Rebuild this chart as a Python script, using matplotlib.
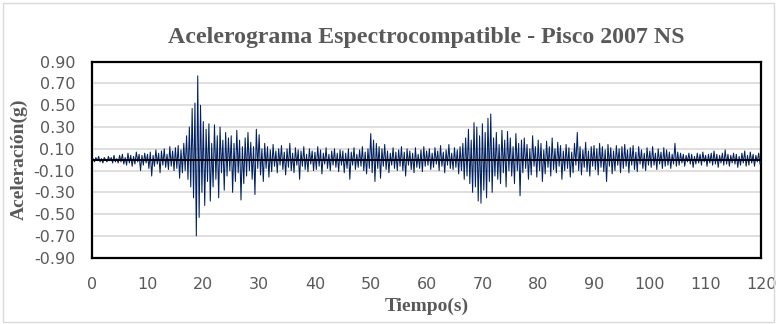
import numpy as np
import matplotlib
matplotlib.use("Agg")
import matplotlib.pyplot as plt
from matplotlib.patches import Rectangle

# Acelerograma (g), muestreado cada 0.25 s, leido a ojo del grafico
dt = 0.25
accel = [
    0.00, 0.01, -0.02, 0.02, -0.01, 0.03, -0.02, 0.01, -0.03, 0.02, 0.00, -0.02, 0.03, -0.01, 0.02, -0.03, 0.04, -0.02, 0.01, -0.03,
    0.04, -0.02, 0.05, -0.04, 0.02, -0.05, 0.06, -0.03, 0.04, -0.06, 0.03, -0.04, 0.07, -0.02, 0.05, -0.10, 0.04, -0.05, 0.06, -0.03,
    0.05, -0.08, 0.07, -0.15, 0.04, -0.06, 0.09, -0.04, 0.06, -0.12, 0.08, -0.05, 0.10, -0.07, 0.05, -0.09, 0.12, -0.06, 0.08, -0.10,
    0.11, -0.08, 0.13, -0.17, 0.09, -0.12, 0.15, -0.10, 0.22, -0.18, 0.30, -0.25, 0.47, -0.35, 0.52, -0.70, 0.77, -0.53, 0.50, -0.30,
    0.35, -0.42, 0.28, -0.20, 0.33, -0.38, 0.15, -0.25, 0.32, -0.18, 0.22, -0.35, 0.30, -0.12, 0.18, -0.28, 0.25, -0.15, 0.20, -0.10,
    0.22, -0.30, 0.15, -0.20, 0.27, -0.12, 0.18, -0.37, 0.12, -0.22, 0.20, -0.15, 0.25, -0.10, 0.16, -0.18, 0.12, -0.32, 0.28, -0.08,
    0.23, -0.14, 0.10, -0.20, 0.15, -0.08, 0.12, -0.16, 0.09, -0.11, 0.14, -0.06, 0.08, -0.12, 0.10, -0.05, 0.13, -0.09, 0.07, -0.14,
    0.10, -0.07, 0.15, -0.10, 0.06, -0.12, 0.11, -0.05, 0.09, -0.18, 0.08, -0.06, 0.12, -0.09, 0.05, -0.11, 0.10, -0.04, 0.08, -0.10,
    0.07, -0.09, 0.12, -0.06, 0.09, -0.13, 0.06, -0.04, 0.11, -0.08, 0.05, -0.10, 0.08, -0.05, 0.10, -0.07, 0.06, -0.11, 0.09, -0.05,
    0.08, -0.12, 0.06, -0.08, 0.10, -0.18, 0.07, -0.05, 0.11, -0.09, 0.05, -0.07, 0.09, -0.06, 0.12, -0.10, 0.07, -0.13, 0.10, -0.08,
    0.24, -0.12, 0.18, -0.20, 0.15, -0.08, 0.12, -0.17, 0.10, -0.06, 0.14, -0.09, 0.08, -0.12, 0.06, -0.05, 0.11, -0.08, 0.07, -0.10,
    0.09, -0.06, 0.12, -0.10, 0.07, -0.15, 0.10, -0.05, 0.08, -0.09, 0.06, -0.12, 0.11, -0.07, 0.05, -0.08, 0.09, -0.11, 0.12, -0.06,
    0.08, -0.05, 0.10, -0.09, 0.06, -0.07, 0.11, -0.04, 0.08, -0.10, 0.13, -0.06, 0.07, -0.12, 0.09, -0.05, 0.14, -0.08, 0.06, -0.09,
    0.11, -0.07, 0.09, -0.13, 0.12, -0.10, 0.15, -0.18, 0.20, -0.15, 0.28, -0.22, 0.18, -0.30, 0.34, -0.25, 0.30, -0.38, 0.22, -0.40,
    0.33, -0.28, 0.25, -0.35, 0.38, -0.20, 0.42, -0.30, 0.20, -0.15, 0.25, -0.18, 0.14, -0.22, 0.27, -0.12, 0.18, -0.25, 0.26, -0.10,
    0.20, -0.15, 0.12, -0.22, 0.24, -0.10, 0.15, -0.33, 0.18, -0.12, 0.20, -0.08, 0.14, -0.18, 0.10, -0.14, 0.22, -0.06, 0.12, -0.16,
    0.18, -0.10, 0.15, -0.20, 0.09, -0.13, 0.17, -0.07, 0.12, -0.15, 0.20, -0.09, 0.10, -0.12, 0.16, -0.06, 0.13, -0.18, 0.08, -0.10,
    0.14, -0.08, 0.11, -0.16, 0.07, -0.12, 0.15, -0.05, 0.25, -0.10, 0.12, -0.14, 0.09, -0.07, 0.16, -0.11, 0.08, -0.15, 0.12, -0.06,
    0.13, -0.09, 0.10, -0.14, 0.15, -0.07, 0.12, -0.11, 0.09, -0.20, 0.14, -0.06, 0.11, -0.13, 0.08, -0.10, 0.13, -0.05, 0.10, -0.12,
    0.12, -0.08, 0.14, -0.06, 0.09, -0.12, 0.11, -0.05, 0.13, -0.09, 0.07, -0.11, 0.12, -0.04, 0.09, -0.08, 0.06, -0.10, 0.11, -0.05,
    0.08, -0.07, 0.12, -0.05, 0.06, -0.09, 0.10, -0.04, 0.07, -0.08, 0.11, -0.06, 0.09, -0.05, 0.07, -0.08, 0.05, -0.04, 0.15, -0.06,
    0.07, -0.05, 0.06, -0.03, 0.05, -0.06, 0.04, -0.02, 0.06, -0.04, 0.05, -0.07, 0.03, -0.04, 0.06, -0.03, 0.05, -0.05, 0.07, -0.02,
    0.04, -0.06, 0.05, -0.03, 0.06, -0.05, 0.08, -0.04, 0.05, -0.07, 0.04, -0.03, 0.06, -0.05, 0.09, -0.04, 0.05, -0.06, 0.04, -0.03,
    0.06, -0.04, 0.05, -0.07, 0.03, -0.05, 0.06, -0.03, 0.08, -0.06, 0.04, -0.05, 0.07, -0.03, 0.05, -0.06, 0.04, -0.02, 0.06, -0.04,
    0.00,
]
time = np.arange(len(accel)) * dt

x_ticks = [0, 10, 20, 30, 40, 50, 60, 70, 80, 90, 100, 110, 120]
y_ticks = [0.9, 0.7, 0.5, 0.3, 0.1, -0.1, -0.3, -0.5, -0.7, -0.9]
y_labels = ["0.90", "0.70", "0.50", "0.30", "0.10", "-0.10", "-0.30", "-0.50", "-0.70", "-0.90"]

tick_font = ["Liberation Sans Narrow", "DejaVu Sans"]
serif_font = ["Liberation Serif", "DejaVu Serif"]
gray_txt = "#595959"

fig = plt.figure(figsize=(7.77, 3.24), dpi=100)
ax = fig.add_axes([0.118, 0.2046, 0.862, 0.605])

# borde exterior del grafico (estilo Excel)
fig.patches.append(Rectangle((0.004, 0.006), 0.992, 0.984, transform=fig.transFigure,
                             fill=False, edgecolor="#d9d9d9", linewidth=1.0))

ax.plot(time, accel, color="#002060", linewidth=0.75, zorder=3)
ax.axhline(0, color="black", linewidth=1.4, zorder=4)

ax.set_xlim(0, 120)
ax.set_ylim(-0.9, 0.9)
ax.set_xticks(x_ticks)
ax.set_yticks(y_ticks)
ax.set_yticklabels(y_labels)
ax.grid(axis="y", color="#d9d9d9", linewidth=1.2, zorder=0)
ax.tick_params(length=0, labelsize=11.5, labelcolor=gray_txt)
ax.tick_params(axis="x", pad=14)
ax.tick_params(axis="y", pad=12)
for lab in ax.get_xticklabels() + ax.get_yticklabels():
    lab.set_family(tick_font)

for sp in ax.spines.values():
    sp.set_linewidth(1.6)
    sp.set_color("black")

ax.set_xlabel("Tiempo(s)", fontsize=14, fontweight="bold", color=gray_txt,
              family=serif_font, labelpad=4)
ax.set_ylabel("Aceleración(g)", fontsize=14, fontweight="bold", color=gray_txt,
              family=serif_font, labelpad=4)
fig.text(0.549, 0.883, "Acelerograma Espectrocompatible - Pisco 2007 NS",
         ha="center", va="center", fontsize=17.2, fontweight="bold",
         color=gray_txt, family=serif_font)

fig.savefig("out.png", dpi=100)
